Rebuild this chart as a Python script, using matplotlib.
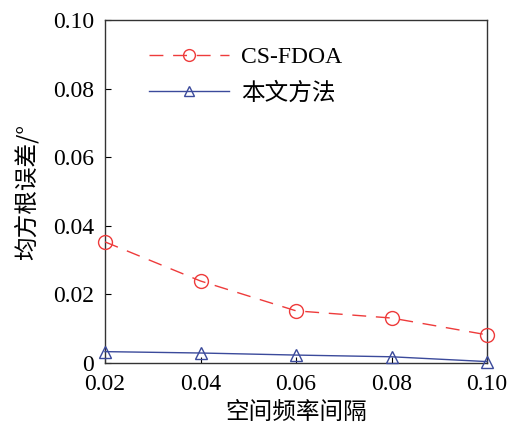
import matplotlib
matplotlib.use('Agg')
import matplotlib.pyplot as plt
from matplotlib.ticker import FuncFormatter

plt.rcParams['font.family'] = ['Liberation Serif', 'Noto Sans CJK SC']

x_vals = [0.02, 0.04, 0.06, 0.08, 0.10]
cs_fdoa = [0.0353, 0.0239, 0.0152, 0.0131, 0.0082]
proposed = [0.0033, 0.0029, 0.0023, 0.0018, 0.0004]
labels = ['CS-FDOA', '本文方法']

fig = plt.figure(figsize=(5.16, 4.26), dpi=100)
ax = fig.add_axes([0.2035, 0.148, 0.7403, 0.805])

ax.plot(x_vals, cs_fdoa, color='#ee3b3b', linestyle=(0, (10, 7)), linewidth=1.0,
        marker='o', markersize=10, markerfacecolor='none', markeredgecolor='#ee3b3b',
        markeredgewidth=1.0, label=labels[0], clip_on=False, zorder=3)
ax.plot(x_vals, proposed, color='#3b4a9b', linestyle='-', linewidth=1.0,
        marker='^', markersize=9, markerfacecolor='none', markeredgecolor='#3b4a9b',
        markeredgewidth=1.0, label=labels[1], clip_on=False, zorder=3)

ax.set_xlim(0.02, 0.10)
ax.set_ylim(0, 0.10)
ax.set_xticks(x_vals)
ax.set_yticks([0, 0.02, 0.04, 0.06, 0.08, 0.10])
ax.xaxis.set_major_formatter(FuncFormatter(lambda v, p: '%.2f' % v))
ax.yaxis.set_major_formatter(FuncFormatter(lambda v, p: '0' if v == 0 else '%.2f' % v))
ax.tick_params(direction='in', length=4, labelsize=17, width=0.8)
ax.tick_params(axis='x', pad=8)
ax.tick_params(axis='y', pad=8)

for s in ax.spines.values():
    s.set_linewidth(1.0)
    s.set_color('#333333')

ax.set_xlabel('空间频率间隔', fontsize=17, family=['Noto Sans CJK SC'], labelpad=4)
ax.set_ylabel('均方根误差/°', fontsize=17, family=['Noto Sans CJK SC', 'DejaVu Sans'], labelpad=10)

leg = ax.legend(loc='upper left', bbox_to_anchor=(0.06, 0.985), frameon=False,
                handlelength=3.4, handletextpad=0.5, labelspacing=0.6, markerscale=0.85,
                prop={'family': ['Liberation Serif', 'Noto Sans CJK SC'], 'size': 17})

fig.savefig('out.png', dpi=100)
